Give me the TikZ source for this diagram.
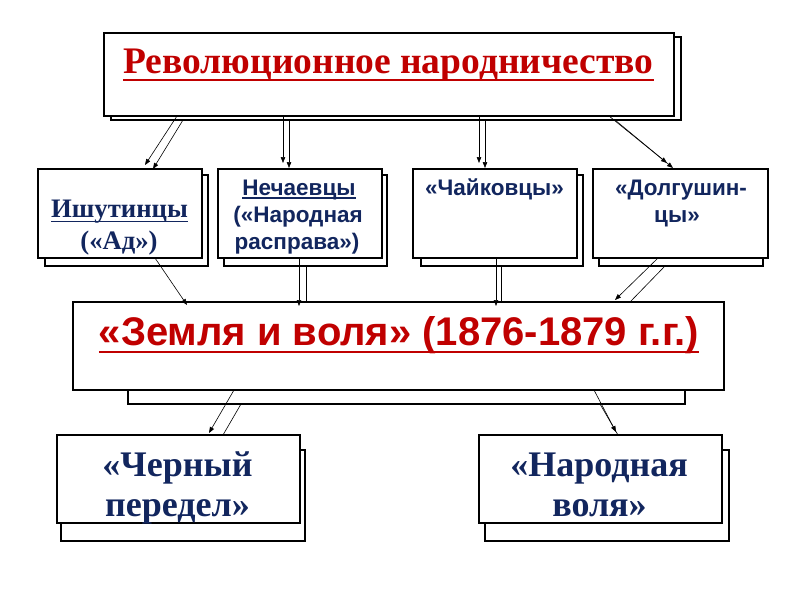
\documentclass[tikz,border=0pt]{standalone}
\usepackage{fontspec}
\setmainfont{Liberation Serif}
\newfontfamily\arialf{Liberation Sans}
\usetikzlibrary{arrows.meta}
\definecolor{dred}{RGB}{192,0,0}
\definecolor{navy}{RGB}{18,38,94}
\newcommand\pbox[5]{\node[box,minimum width={(#4-#2)*1pt},minimum height={(#5-#3)*1pt}] (#1) at ({(#2+#4)/2},{(#3+#5)/2}) {};}
\begin{document}
\begin{tikzpicture}[x=1pt,y=-1pt,
  box/.style={draw=black,line width=1.1pt,fill=white,inner sep=0pt,outer sep=0pt},
  arr/.style={line width=0.6pt,-{Triangle[length=6pt,width=4.5pt]}},
  ln/.style={line width=0.6pt},
  txt/.style={inner sep=0pt,outer sep=0pt,anchor=base},
  ttlfont/.style={font=\fontsize{37.5}{37.5}\selectfont\bfseries,text=dred},
  serfont/.style={font=\fontsize{26.7}{26.7}\selectfont\bfseries,text=navy},
  sanfont/.style={font=\fontsize{22.5}{22.5}\selectfont\arialf\bfseries,text=navy},
  zemfont/.style={font=\fontsize{40}{40}\selectfont\arialf\bfseries,text=dred},
  bigfont/.style={font=\fontsize{36}{36}\selectfont\bfseries,text=navy},
  ]
\useasboundingbox (0,0) rectangle (800,600);
\fill[white] (0,0) rectangle (800,600);
% shadows
\pbox{topS}{111}{37}{681}{120}
\pbox{ishS}{45}{175}{208}{266}
\pbox{nechS}{224}{175}{387}{266}
\pbox{chayS}{421}{175}{583}{266}
\pbox{dolgS}{599}{175}{763}{266}
\pbox{zemS}{128}{310}{685}{404}
\pbox{cherS}{61}{450}{305}{541}
\pbox{narS}{485}{450}{729}{541}
% front boxes
\pbox{top}{104}{33}{674}{116}
\pbox{ish}{38}{169}{202}{258}
\pbox{nech}{218}{169}{382}{258}
\pbox{chay}{413}{169}{577}{258}
\pbox{dolg}{593}{169}{768}{258}
\pbox{zem}{73}{302}{724}{390}
\pbox{cher}{57}{435}{300}{523}
\pbox{nar}{479}{435}{722}{523}
% connectors: top -> second row
\draw[arr] ([xshift=73pt]top.south west) -- ([xshift=107pt,yshift=4pt]ish.north west);
\draw[arr] ([xshift=72pt]topS.south west) -- ([xshift=115pt]ish.north west);
\draw[arr] ([xshift=179pt]top.south west) -- ([xshift=65pt,yshift=6pt]nech.north west);
\draw[arr] ([xshift=178pt]topS.south west) -- ([xshift=71pt,yshift=1pt]nech.north west);
\draw[arr] ([xshift=375pt]top.south west) -- ([xshift=66pt,yshift=6pt]chay.north west);
\draw[arr] ([xshift=374pt]topS.south west) -- ([xshift=72pt,yshift=1pt]chay.north west);
\draw[arr] ([xshift=505pt]top.south west) -- ([xshift=74pt,yshift=6pt]dolg.north west);
\draw[arr] ([xshift=504pt]topS.south west) -- ([xshift=80pt,yshift=1pt]dolg.north west);
% second row -> zem
\draw[arr] ([xshift=117pt]ish.south west) -- ([xshift=114pt,yshift=-3pt]zem.north west);
\draw[arr] ([xshift=81pt]nech.south west) -- ([xshift=226pt,yshift=-4pt]zem.north west);
\draw[ln] ([xshift=82pt]nechS.south west) -- ([xshift=233pt]zem.north west);
\draw[arr] ([xshift=83pt]chay.south west) -- ([xshift=423pt,yshift=-4pt]zem.north west);
\draw[ln] ([xshift=80pt]chayS.south west) -- ([xshift=428pt]zem.north west);
\draw[arr] ([xshift=65pt]dolg.south west) -- ([xshift=542pt,yshift=2pt]zem.north west);
\draw[ln] ([xshift=66pt]dolgS.south west) -- ([xshift=557pt]zem.north west);
% zem -> bottom
\draw[arr] ([xshift=161pt]zem.south west) -- ([xshift=152pt,yshift=2pt]cher.north west);
\draw[ln] ([xshift=113pt]zemS.south west) -- ([xshift=166pt]cher.north west);
\draw[arr] ([xshift=521pt]zem.south west) -- ([xshift=137pt,yshift=3pt]nar.north west);
\draw[ln] ([xshift=472pt]zemS.south west) -- ([xshift=139pt]nar.north west);
% texts
\node[txt,ttlfont] (ttl) at (388.5,73) {Революционное народничество};
\draw[dred,line width=2.2pt] ([yshift=-7pt]ttl.base west) -- ([yshift=-7pt]ttl.base east);
\node[txt,serfont] (ish1) at (119.5,217.5) {Ишутинцы};
\draw[navy,line width=1.5pt] ([yshift=-4pt]ish1.base west) -- ([yshift=-4pt]ish1.base east);
\node[txt,serfont] (ish2) at (119,249) {(«Ад»)};
\node[txt,sanfont] (nech1) at (299,195) {Нечаевцы};
\draw[navy,line width=1.4pt] ([yshift=-3pt]nech1.base west) -- ([yshift=-3pt]nech1.base east);
\node[txt,sanfont] (nech2) at (298,222.5) {(«Народная};
\node[txt,sanfont] (nech3) at (297,249) {расправа»)};
\node[txt,sanfont] (chay1) at (494.5,195) {«Чайковцы»};
\node[txt,sanfont] (dolg1) at (681,195) {«Долгушин-};
\node[txt,sanfont] (dolg2) at (677,222.5) {цы»};
\node[txt,zemfont] (zem1) at (399,345) {«Земля и воля» (1876-1879 г.г.)};
\draw[dred,line width=2pt] ([yshift=-7pt]zem1.base west) -- ([yshift=-7pt]zem1.base east);
\node[txt,bigfont] (cher1) at (177.5,476) {«Черный};
\node[txt,bigfont] (cher2) at (177.5,516) {передел»};
\node[txt,bigfont] (nar1) at (599,476) {«Народная};
\node[txt,bigfont] (nar2) at (599.5,516) {воля»};
\end{tikzpicture}
\end{document}
